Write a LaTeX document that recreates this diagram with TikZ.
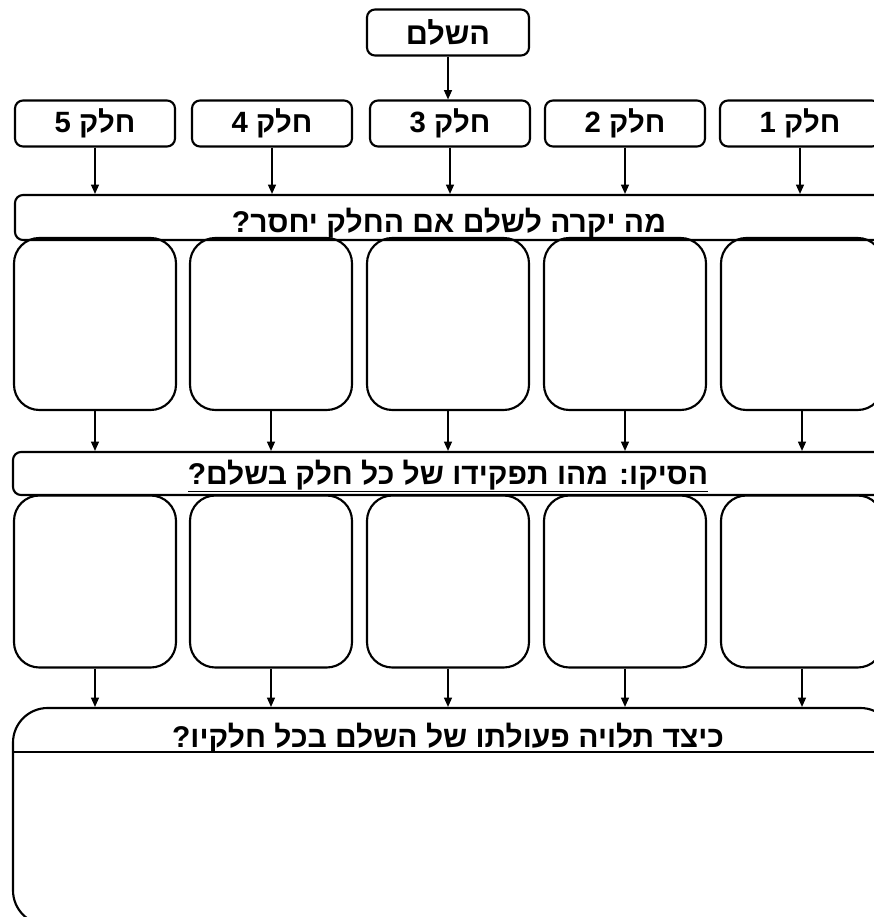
\documentclass[tikz,border=0pt]{standalone}
\usepackage{fontspec}
\setmainfont{Liberation Sans}
\newfontfamily\heb[Script=Hebrew]{Liberation Sans}
\TeXXeTstate=1
\usetikzlibrary{arrows.meta}
\newcommand{\hb}[1]{{\heb\bfseries\beginR #1\endR}}
\begin{document}
\begin{tikzpicture}[x=0.75pt,y=-0.75pt,
  box/.style={draw, line width=1.6pt, inner sep=0pt},
  smallbox/.style={box, rounded corners=6pt, minimum height=46*0.75pt,
     font=\fontsize{22}{26}\selectfont},
  partbox/.style={smallbox, minimum width=160*0.75pt},
  banner/.style={box, rounded corners=6pt, minimum width=882*0.75pt},
  colbox/.style={box, rounded corners=19pt, minimum width=162*0.75pt, minimum height=172*0.75pt},
  htext/.style={inner sep=0pt, anchor=base, font=\fontsize{22.5}{26}\selectfont},
  arr/.style={-{Triangle[width=6pt,length=7pt]}, line width=1pt}]
\useasboundingbox (0,0) rectangle (874,917);
\clip (0,0) rectangle (874,917);
% top
\node[smallbox, minimum width=162*0.75pt, font=\fontsize{23}{26}\selectfont] (whole) at (448,32.5) {\hb{השלם}};
% parts
\node[partbox] (p1) at (800,123.5) {\hb{חלק 1}};
\node[partbox] (p2) at (625,123.5) {\hb{חלק 2}};
\node[partbox] (p3) at (450,123.5) {\hb{חלק 3}};
\node[partbox] (p4) at (272,123.5) {\hb{חלק 4}};
\node[partbox] (p5) at (95,123.5) {\hb{חלק 5}};
% banner 1
\node[banner, minimum height=45*0.75pt] (ban1) at (456,217.5) {};
\node[htext] (t1) at (449,232) {\hb{מה יקרה לשלם אם החלק יחסר?}};
% row 1
\node[colbox] (a1) at (802,324) {};
\node[colbox] (a2) at (625,324) {};
\node[colbox] (a3) at (448,324) {};
\node[colbox] (a4) at (271,324) {};
\node[colbox] (a5) at (95,324) {};
% banner 2
\node[banner, minimum height=43*0.75pt] (ban2) at (454,473.5) {};
\node[htext] (t2) at (448,484) {\underline{\hbox{\hb{הסיקו: מהו תפקידו של כל חלק בשלם?}}}};
% row 2
\node[colbox] (b1) at (802,581.5) {};
\node[colbox] (b2) at (625,581.5) {};
\node[colbox] (b3) at (448,581.5) {};
\node[colbox] (b4) at (271,581.5) {};
\node[colbox] (b5) at (95,581.5) {};
% bottom box
\node[box, rounded corners=26pt, minimum width=882*0.75pt, minimum height=217*0.75pt] (bot) at (454,816.5) {};
\coordinate (hl) at (0,752);
\draw[line width=1.6pt] (bot.west |- hl) -- (bot.east |- hl);
\node[htext] (t3) at (448,747) {\hb{כיצד תלויה פעולתו של השלם בכל חלקיו?}};
% arrows
\draw[arr] (whole.south) -- (whole.south |- p3.north);
\foreach \i in {1,...,5} {
  \draw[arr] (p\i.south) -- (p\i.south |- ban1.north);
  \draw[arr] (a\i.south) -- (a\i.south |- ban2.north);
  \draw[arr] (b\i.south) -- (b\i.south |- bot.north);
}
\end{tikzpicture}
\end{document}
